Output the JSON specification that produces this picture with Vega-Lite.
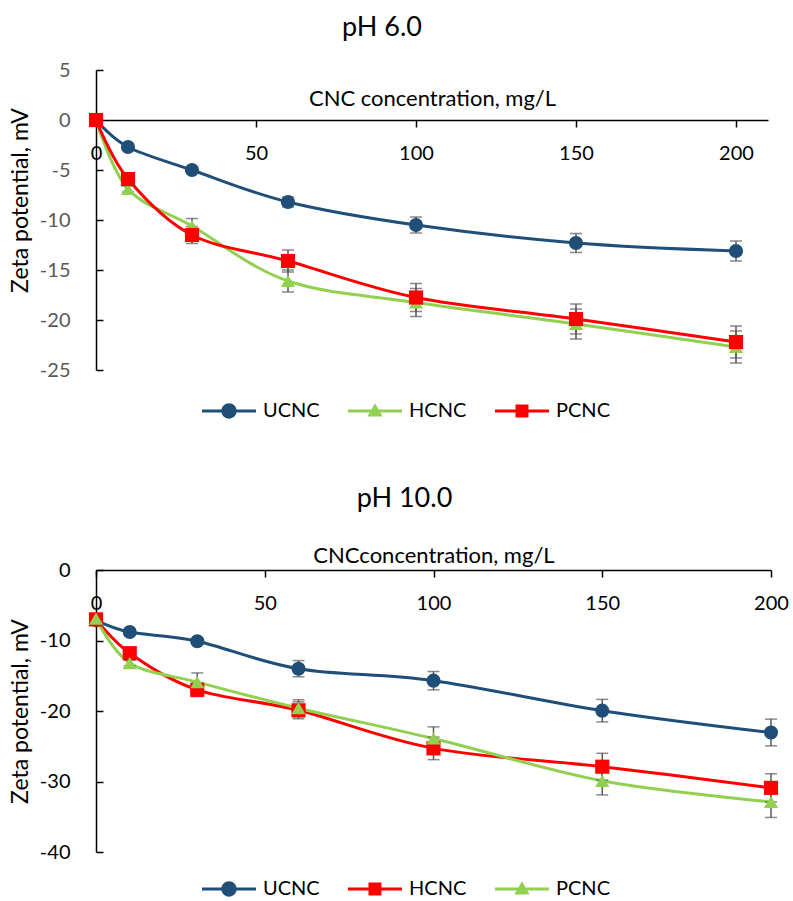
{
  "$schema": "https://vega.github.io/schema/vega-lite/v6.json",
  "padding": {"left": 9, "top": 14, "right": 5, "bottom": 0},
  "background": "#ffffff",
  "config": {
    "view": {"stroke": null},
    "font": "Lato",
    "axis": {"grid": false, "domainColor": "#000000", "domainWidth": 1.5, "tickColor": "#000000", "tickWidth": 1.5, "labelFont": "Lato", "labelFontSize": 20, "titleFont": "Lato", "titleFontSize": 23, "titleFontWeight": "normal", "titleColor": "#000000", "labelColor": "#000000", "labelOverlap": false, "labelFlush": false, "labelExpr": "datum.value + ''"},
    "legend": {"labelFont": "Lato", "labelFontSize": 20, "labelColor": "#000000", "symbolSize": 324, "symbolStrokeWidth": 0, "padding": 0, "labelOffset": 24, "columnPadding": 28, "orient": "none", "direction": "horizontal", "title": null},
    "title": {"font": "Lato", "fontSize": 27, "fontWeight": "normal", "color": "#000000"}
  },
  "datasets": {
    "ph6": [
      {"c": 0, "z": 0, "e": 0.1, "s": "UCNC"},
      {"c": 10, "z": -2.7, "e": 0.2, "s": "UCNC"},
      {"c": 30, "z": -5.0, "e": 0.3, "s": "UCNC"},
      {"c": 60, "z": -8.2, "e": 0.5, "s": "UCNC"},
      {"c": 100, "z": -10.5, "e": 0.8, "s": "UCNC"},
      {"c": 150, "z": -12.3, "e": 0.95, "s": "UCNC"},
      {"c": 200, "z": -13.1, "e": 1.0, "s": "UCNC"},
      {"c": 0, "z": 0, "e": 0.1, "s": "HCNC"},
      {"c": 10, "z": -6.9, "e": 0.3, "s": "HCNC"},
      {"c": 30, "z": -10.6, "e": 0.75, "s": "HCNC"},
      {"c": 60, "z": -16.1, "e": 1.1, "s": "HCNC"},
      {"c": 100, "z": -18.25, "e": 1.4, "s": "HCNC"},
      {"c": 150, "z": -20.4, "e": 1.5, "s": "HCNC"},
      {"c": 200, "z": -22.7, "e": 1.6, "s": "HCNC"},
      {"c": 0, "z": 0, "e": 0.1, "s": "PCNC"},
      {"c": 10, "z": -5.9, "e": 0.3, "s": "PCNC"},
      {"c": 30, "z": -11.5, "e": 0.85, "s": "PCNC"},
      {"c": 60, "z": -14.1, "e": 1.1, "s": "PCNC"},
      {"c": 100, "z": -17.75, "e": 1.4, "s": "PCNC"},
      {"c": 150, "z": -19.9, "e": 1.5, "s": "PCNC"},
      {"c": 200, "z": -22.2, "e": 1.6, "s": "PCNC"}
    ],
    "ph10": [
      {"c": 0, "z": -7.1, "e": 0.3, "s": "UCNC"},
      {"c": 10, "z": -8.8, "e": 0.3, "s": "UCNC"},
      {"c": 30, "z": -10.1, "e": 0.4, "s": "UCNC"},
      {"c": 60, "z": -14.0, "e": 1.15, "s": "UCNC"},
      {"c": 100, "z": -15.7, "e": 1.3, "s": "UCNC"},
      {"c": 150, "z": -19.95, "e": 1.6, "s": "UCNC"},
      {"c": 200, "z": -23.05, "e": 1.9, "s": "UCNC"},
      {"c": 0, "z": -7.0, "e": 0.3, "s": "HCNC"},
      {"c": 10, "z": -11.8, "e": 0.4, "s": "HCNC"},
      {"c": 30, "z": -17.0, "e": 0.95, "s": "HCNC"},
      {"c": 60, "z": -19.9, "e": 1.2, "s": "HCNC"},
      {"c": 100, "z": -25.3, "e": 1.6, "s": "HCNC"},
      {"c": 150, "z": -27.9, "e": 1.9, "s": "HCNC"},
      {"c": 200, "z": -30.9, "e": 2.0, "s": "HCNC"},
      {"c": 0, "z": -6.9, "e": 0.3, "s": "PCNC"},
      {"c": 10, "z": -13.2, "e": 0.4, "s": "PCNC"},
      {"c": 30, "z": -15.9, "e": 1.3, "s": "PCNC"},
      {"c": 60, "z": -19.6, "e": 1.2, "s": "PCNC"},
      {"c": 100, "z": -23.9, "e": 1.65, "s": "PCNC"},
      {"c": 150, "z": -29.9, "e": 2.0, "s": "PCNC"},
      {"c": 200, "z": -32.9, "e": 2.2, "s": "PCNC"}
    ]
  },
  "spacing": 64,
  "resolve": {"scale": {"color": "independent", "x": "independent", "y": "independent"}, "legend": {"color": "independent"}},
  "vconcat": [
    {
      "title": {"text": "pH 6.0", "dx": -50, "offset": 18},
      "width": 672,
      "height": 300,
      "data": {"name": "ph6"},
      "encoding": {
        "x": {"field": "c", "type": "quantitative", "scale": {"domain": [0, 210], "nice": false, "zero": false},
          "axis": {"orient": "bottom", "offset": -250, "values": [0, 50, 100, 150, 200], "title": "CNC concentration, mg/L", "titleY": -15, "titleBaseline": "alphabetic", "titleFontSize": 22, "tickSize": 7, "labelPadding": 16}},
        "y": {"field": "z", "type": "quantitative", "scale": {"domain": [-25, 5], "nice": false, "zero": false},
          "axis": {"values": [-25, -20, -15, -10, -5, 0, 5], "title": "Zeta potential, mV", "tickSize": -7, "labelPadding": 33, "labelColor": "#595959", "titleY": 130, "titlePadding": 7}},
        "color": {"field": "s", "type": "nominal", "scale": {"domain": ["UCNC", "HCNC", "PCNC"], "range": ["#1F4E79", "#92D050", "#FF0000"]},
          "legend": {"legendX": 123, "legendY": 331, "symbolSize": 324, "symbolStrokeWidth": 0,
            "symbolType": {"expr": "datum.value === 'UCNC' ? 'M-3,-0.17H3V0.17H-3Z M0.85,0A0.85,0.85,0,1,1,-0.85,0A0.85,0.85,0,1,1,0.85,0Z' : datum.value === 'HCNC' ? 'M-3,-0.17H3V0.17H-3Z M0,-0.85L0.85,0.6L-0.85,0.6Z' : 'M-3,-0.17H3V0.17H-3Z M-0.72,-0.72H0.72V0.72H-0.72Z'"},
            "encode": {"symbols": {"update": {
              "fill": {"signal": "datum.value === 'UCNC' ? '#1F4E79' : datum.value === 'HCNC' ? '#92D050' : '#FF0000'"},
              "opacity": {"value": 1}
            }}}}}
      },
      "layer": [
        {"mark": {"type": "line", "interpolate": "cardinal", "strokeWidth": 3}},
        {"mark": {"type": "errorbar", "ticks": {"size": 12, "thickness": 1.5}, "rule": {"strokeWidth": 1.5}},
          "encoding": {"yError": {"field": "e"}, "color": {"value": "#595959"}}},
        {"transform": [{"filter": "datum.s === 'UCNC'"}], "mark": {"type": "point", "filled": true, "opacity": 1, "size": 200, "shape": "circle"}},
        {"transform": [{"filter": "datum.s === 'HCNC'"}], "mark": {"type": "point", "filled": true, "opacity": 1, "size": 200, "shape": "triangle-up"}},
        {"transform": [{"filter": "datum.s === 'PCNC'"}], "mark": {"type": "point", "filled": true, "opacity": 1, "size": 200, "shape": "square"}}
      ]
    },
    {
      "title": {"text": "pH 10.0", "dx": -29, "offset": 31},
      "width": 675,
      "height": 282,
      "data": {"name": "ph10"},
      "encoding": {
        "x": {"field": "c", "type": "quantitative", "scale": {"domain": [0, 200], "nice": false, "zero": false},
          "axis": {"orient": "bottom", "offset": -282, "values": [0, 50, 100, 150, 200], "title": "CNCconcentration, mg/L", "titleY": -8, "titleBaseline": "alphabetic", "titleFontSize": 22, "tickSize": 7, "labelPadding": 16}},
        "y": {"field": "z", "type": "quantitative", "scale": {"domain": [-40, 0], "nice": false, "zero": false},
          "axis": {"values": [-40, -30, -20, -10, 0], "title": "Zeta potential, mV", "tickSize": -7, "labelPadding": 33, "titlePadding": 7}},
        "color": {"field": "s", "type": "nominal", "scale": {"domain": ["UCNC", "HCNC", "PCNC"], "range": ["#1F4E79", "#FF0000", "#92D050"]},
          "legend": {"legendX": 123, "legendY": 309, "symbolSize": 324, "symbolStrokeWidth": 0,
            "symbolType": {"expr": "datum.value === 'UCNC' ? 'M-3,-0.17H3V0.17H-3Z M0.85,0A0.85,0.85,0,1,1,-0.85,0A0.85,0.85,0,1,1,0.85,0Z' : datum.value === 'PCNC' ? 'M-3,-0.17H3V0.17H-3Z M0,-0.85L0.85,0.6L-0.85,0.6Z' : 'M-3,-0.17H3V0.17H-3Z M-0.72,-0.72H0.72V0.72H-0.72Z'"},
            "encode": {"symbols": {"update": {
              "fill": {"signal": "datum.value === 'UCNC' ? '#1F4E79' : datum.value === 'PCNC' ? '#92D050' : '#FF0000'"},
              "opacity": {"value": 1}
            }}}}}
      },
      "layer": [
        {"mark": {"type": "line", "interpolate": "cardinal", "strokeWidth": 3}},
        {"mark": {"type": "errorbar", "ticks": {"size": 12, "thickness": 1.5}, "rule": {"strokeWidth": 1.5}},
          "encoding": {"yError": {"field": "e"}, "color": {"value": "#595959"}}},
        {"transform": [{"filter": "datum.s === 'UCNC'"}], "mark": {"type": "point", "filled": true, "opacity": 1, "size": 200, "shape": "circle"}},
        {"transform": [{"filter": "datum.s === 'HCNC'"}], "mark": {"type": "point", "filled": true, "opacity": 1, "size": 200, "shape": "square"}},
        {"transform": [{"filter": "datum.s === 'PCNC'"}], "mark": {"type": "point", "filled": true, "opacity": 1, "size": 200, "shape": "triangle-up"}}
      ]
    }
  ]
}
